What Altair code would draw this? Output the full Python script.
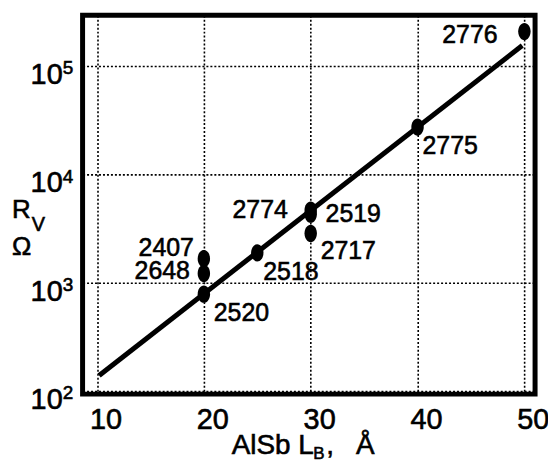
import altair as alt
import pandas as pd

# --- data ---
sample_ids = ["2407", "2648", "2520", "2518", "2774", "2519", "2717", "2775", "2776"]
barrier_len = [20, 20, 20, 25, 30, 30, 30, 40, 50]
resistance = [1670, 1220, 785, 1890, 4300, 4700, 2860, 27500, 210000]

fit_x = [10.2, 49.8]
fit_y = [139, 156000]

x_ticks = [10, 20, 30, 40, 50]
y_ticks = [100, 1000, 10000, 100000]
y_exponents = ["2", "3", "4", "5"]

# label offsets (px) and alignment for each sample label
label_dx = [-10, -14, 10, 6, -23, 15, 10, 5, -27]
label_dy = [-11, -2, 19, 19, -4, 4, 18, 19, 4]
label_align = ["right", "right", "left", "left", "right", "left", "left", "left", "right"]

FONT = "Liberation Sans"
W, H = 455, 381
THICK = dict(stroke="black", strokeWidth=0.6)

pts = pd.DataFrame({"id": sample_ids, "L": barrier_len, "R": resistance})
fit = pd.DataFrame({"L": fit_x, "R": fit_y})
yt = pd.DataFrame({"R": y_ticks, "e": y_exponents})
xt = pd.DataFrame({"L": x_ticks})

xs = alt.Scale(domain=[8.65, 51.0], nice=False, zero=False)
ys = alt.Scale(type="log", domain=[93.5, 297000], nice=False)

x_axis = alt.Axis(values=x_ticks, title=None, grid=True, gridDash=[2, 2], gridColor="black",
                  gridWidth=1.6, gridOpacity=1, domain=False, ticks=False, labels=False)
y_axis = alt.Axis(values=y_ticks, title=None, grid=True, gridDash=[2, 2], gridColor="black",
                  gridWidth=1.6, gridOpacity=1, domain=False, ticks=False, labels=False)

line = alt.Chart(fit).mark_line(color="black", strokeWidth=5).encode(
    x=alt.X("L:Q", scale=xs, axis=x_axis),
    y=alt.Y("R:Q", scale=ys, axis=y_axis),
)

ellipse = "M0,-1A0.72,1 0 1,1 0,1A0.72,1 0 1,1 0,-1Z"
points = alt.Chart(pts).mark_point(shape=ellipse, filled=True, color="black", opacity=1, size=300).encode(
    x=alt.X("L:Q", scale=xs), y=alt.Y("R:Q", scale=ys)
)

# x tick labels
xtick = alt.Chart(xt).mark_text(font=FONT, fontSize=29, color="black", align="center",
                                baseline="middle", dx=9, **THICK).encode(
    x=alt.X("L:Q", scale=xs), y=alt.value(H + 26), text=alt.Text("L:Q", format="d"))

# y tick labels: "10" with superscript exponent
ytick_base = alt.Chart(yt).mark_text(text="10", font=FONT, fontSize=29, color="black", align="right",
                                     baseline="middle", dy=9, **THICK).encode(
    x=alt.value(-20), y=alt.Y("R:Q", scale=ys))
ytick_exp = alt.Chart(yt).mark_text(font=FONT, fontSize=19, color="black", align="left",
                                    baseline="middle", dy=2, **THICK).encode(
    x=alt.value(-20), y=alt.Y("R:Q", scale=ys), text="e:N")

layers = [line, points, xtick, ytick_base, ytick_exp]
for i, sid in enumerate(sample_ids):
    sub = pts[pts["id"] == sid]
    layers.append(
        alt.Chart(sub).mark_text(font=FONT, fontSize=25, color="black", align=label_align[i],
                                 baseline="middle", dx=label_dx[i], dy=label_dy[i], **THICK).encode(
            x=alt.X("L:Q", scale=xs), y=alt.Y("R:Q", scale=ys), text="id:N")
    )

one = pd.DataFrame({"k": [0]})


def txt(s, left, base, size):
    return alt.Chart(one).mark_text(text=s, font=FONT, fontSize=size, color="black",
                                    align="left", baseline="alphabetic", **THICK).encode(
        x=alt.value(left), y=alt.value(base))


# axis titles (plot-area pixel coordinates)
layers += [
    txt("R", -71, 204, 26),
    txt("V", -51, 217, 20),
    txt("Ω", -71, 241, 26),
    txt("AlSb L", 150, 441, 28),
    txt("B", 232, 446, 17),
    txt(",", 245, 441, 28),
    txt("Å", 275, 441, 28),
]

chart = alt.layer(*layers).properties(
    width=W, height=H,
    padding={"left": 75, "top": 6, "right": 13, "bottom": 67},
    autosize=alt.AutoSizeParams(type="none"),
    background="white",
).configure_view(stroke="black", strokeWidth=5)

chart.save("out.html", embed_options={"renderer": "svg", "actions": False})
